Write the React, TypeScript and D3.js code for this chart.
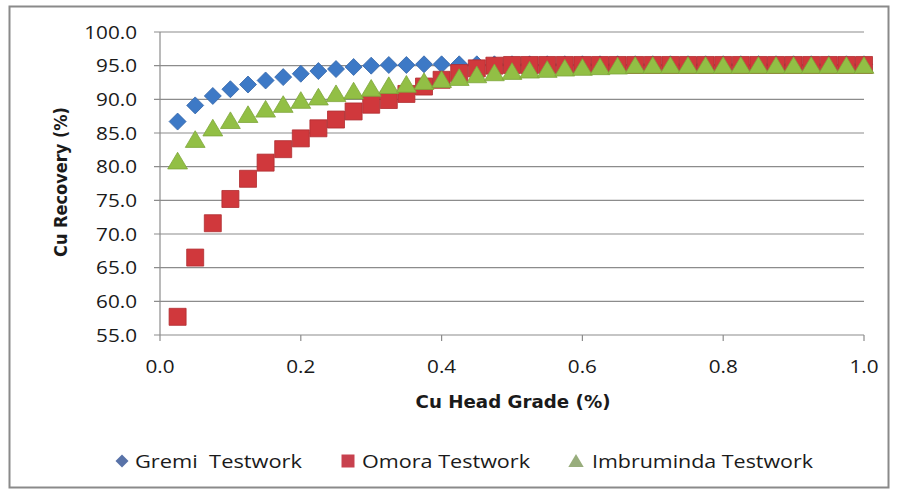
import * as d3 from 'd3'

// Cu head grade (%) sampled every 0.025
const headGrade = [
  0.025, 0.05, 0.075, 0.1, 0.125, 0.15, 0.175, 0.2, 0.225, 0.25,
  0.275, 0.3, 0.325, 0.35, 0.375, 0.4, 0.425, 0.45, 0.475, 0.5,
  0.525, 0.55, 0.575, 0.6, 0.625, 0.65, 0.675, 0.7, 0.725, 0.75,
  0.775, 0.8, 0.825, 0.85, 0.875, 0.9, 0.925, 0.95, 0.975, 1.0,
]

const gremi = [
  86.7, 89.1, 90.5, 91.5, 92.2, 92.8, 93.3, 93.8, 94.2, 94.5,
  94.8, 95.0, 95.1, 95.1, 95.2, 95.2, 95.2, 95.2, 95.2, 95.2,
  95.2, 95.2, 95.2, 95.2, 95.2, 95.2, 95.2, 95.2, 95.2, 95.2,
  95.2, 95.2, 95.2, 95.2, 95.2, 95.2, 95.2, 95.2, 95.2, 95.2,
]

const omora = [
  57.7, 66.5, 71.6, 75.2, 78.2, 80.6, 82.6, 84.2, 85.7, 87.0,
  88.2, 89.2, 89.9, 90.8, 91.9, 92.9, 93.9, 94.6, 95.0, 95.1,
  95.1, 95.1, 95.1, 95.1, 95.1, 95.1, 95.1, 95.1, 95.1, 95.1,
  95.1, 95.1, 95.1, 95.1, 95.1, 95.1, 95.1, 95.1, 95.1, 95.1,
]

const imbruminda = [
  80.8, 84.0, 85.7, 86.8, 87.7, 88.5, 89.2, 89.8, 90.3, 90.8,
  91.2, 91.6, 92.0, 92.2, 92.6, 92.9, 93.2, 93.6, 93.9, 94.1,
  94.3, 94.4, 94.6, 94.7, 94.8, 94.9, 95.0, 95.0, 95.0, 95.0,
  95.0, 95.0, 95.0, 95.0, 95.0, 95.0, 95.0, 95.0, 95.0, 95.0,
]

const seriesNames = ['Gremi  Testwork', 'Omora Testwork', 'Imbruminda Testwork']

const W = 899
const H = 491
const left = 160
const right = 864
const top = 32
const bottom = 335

const x = d3.scaleLinear().domain([0, 1]).range([left, right])
const y = d3.scaleLinear().domain([55, 100]).range([bottom, top])
const fmt = d3.format('.1f')

const diamond = (r: number) => `M0,${-r}L${r},0L0,${r}L${-r},0Z`
const square = (r: number) => `M${-r},${-r}H${r}V${r}H${-r}Z`
const triangle = (r: number) => `M0,${-r}L${r * 1.1},${r * 0.85}H${-r * 1.1}Z`

const gridColor = '#8c8c8c'
const txt = '#1a1a1a'
const sx = 1.15

function Label(props: { x: number; y: number; anchor?: string; text: string }) {
  return (
    <text
      transform={`translate(${props.x},${props.y}) scale(${sx},1)`}
      textAnchor={props.anchor || 'start'}
      fontFamily="'Open Sans', sans-serif"
      fontSize={18}
      fill={txt}
    >
      {props.text}
    </text>
  )
}

export default function App() {
  const series = [
    { data: gremi, shape: diamond(8.5), fill: '#3d79c6', stroke: '#3566a8' },
    { data: omora, shape: square(8.5), fill: '#d0383c', stroke: '#b02c30' },
    { data: imbruminda, shape: triangle(9), fill: '#92bf45', stroke: '#7ea63a' },
  ]

  const legend = [
    { mx: 122, tx: 135, tw: 167, shape: diamond(6.5), fill: '#5872a8' },
    { mx: 348, tx: 362, tw: 168, shape: square(6.5), fill: '#c8414e' },
    { mx: 576, tx: 592, tw: 221, shape: triangle(7), fill: '#98ad7c' },
  ]

  return (
    <svg width={W} height={H} style={{ position: 'absolute', left: 0, top: 0, background: '#fff' }}>
      <rect x={0} y={0} width={W} height={H} fill="#fff" />
      <rect x={9.5} y={6.5} width={879} height={481} fill="none" stroke="#8a8a8a" strokeWidth={2} />

      {/* grid + y ticks */}
      {y.ticks(9).map((t) => (
        <g key={'y' + t}>
          <line x1={left - 6} x2={right} y1={y(t)} y2={y(t)} stroke={gridColor} strokeWidth={1.2} />
          <Label x={137} y={y(t) + 6.5} anchor="end" text={fmt(t)} />
        </g>
      ))}
      <line x1={left} x2={left} y1={top} y2={bottom} stroke={gridColor} strokeWidth={1.2} />

      {/* x ticks */}
      {x.ticks(5).map((t) => (
        <g key={'x' + t}>
          <line x1={x(t)} x2={x(t)} y1={bottom} y2={bottom + 6} stroke={gridColor} strokeWidth={1.2} />
          <Label x={x(t)} y={373} anchor="middle" text={fmt(t)} />
        </g>
      ))}

      {/* axis titles */}
      <text
        x={513}
        y={408}
        textAnchor="middle"
        fontFamily="'DejaVu Sans', sans-serif"
        fontWeight="bold"
        fontSize={17}
        textLength={195}
        lengthAdjust="spacingAndGlyphs"
        fill={txt}
      >
        Cu Head Grade (%)
      </text>
      <text
        transform="translate(67,182) rotate(-90)"
        textAnchor="middle"
        fontFamily="'DejaVu Sans', sans-serif"
        fontWeight="bold"
        fontSize={17}
        textLength={150}
        lengthAdjust="spacingAndGlyphs"
        fill={txt}
      >
        Cu Recovery (%)
      </text>

      {/* markers */}
      {series.map((s, si) => (
        <g key={'s' + si}>
          {s.data.map((v, i) => (
            <path
              key={i}
              d={s.shape}
              transform={`translate(${x(headGrade[i])},${y(v)})`}
              fill={s.fill}
              stroke={s.stroke}
              strokeWidth={0.8}
            />
          ))}
        </g>
      ))}

      {/* legend */}
      {legend.map((l, i) => (
        <g key={'l' + i}>
          <path d={l.shape} transform={`translate(${l.mx},461)`} fill={l.fill} />
          <text
            x={l.tx}
            y={468}
            fontFamily="'Open Sans', sans-serif"
            fontSize={18}
            textLength={l.tw}
            lengthAdjust="spacingAndGlyphs"
            fill={txt}
            style={{ whiteSpace: 'pre' }}
          >
            {seriesNames[i]}
          </text>
        </g>
      ))}
    </svg>
  )
}
